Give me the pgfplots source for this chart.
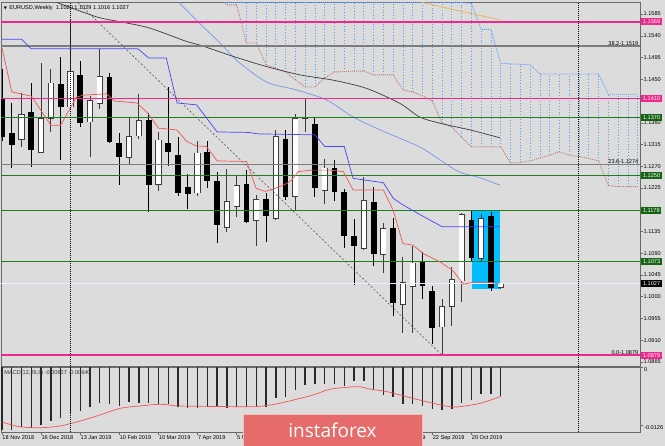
\documentclass[border=0pt]{standalone}
\usepackage{fontspec}
\setmainfont{Liberation Sans}
\newfontfamily\symfont{DejaVu Sans}
\newfontfamily\logofont{Open Sans}
\usepackage{pgfplots}
\usepackage{pgfplotstable}
\pgfplotsset{compat=1.18}

\newcommand{\mtfont}{\fontsize{5.6bp}{6.4bp}\selectfont}

\definecolor{bg}{RGB}{220,220,220}
\definecolor{frame}{RGB}{105,105,105}
\definecolor{lvlpink}{RGB}{240,40,140}
\definecolor{lvlgreen}{RGB}{30,125,30}
\definecolor{boxgreen}{RGB}{20,100,20}
\definecolor{lvlgray}{RGB}{125,125,125}
\definecolor{tenkan}{RGB}{240,85,85}
\definecolor{kijun}{RGB}{70,70,245}
\definecolor{maone}{RGB}{120,150,235}
\definecolor{matwo}{RGB}{60,60,60}
\definecolor{maorange}{RGB}{240,180,90}
\definecolor{cloudblue}{RGB}{80,160,255}
\definecolor{cloudrose}{RGB}{195,125,125}
\definecolor{rectblue}{RGB}{0,190,255}
\definecolor{bannerred}{RGB}{230,108,108}
\definecolor{wickgray}{RGB}{60,60,60}
\definecolor{histgray}{RGB}{40,40,40}
\definecolor{curprice}{RGB}{235,235,250}

% weekly candles, index 0 = week of 18 Nov 2018
\pgfplotstableread{
i o h l c
2 1.1326 1.1422 1.1310 1.1376
4 1.1299 1.1484 1.1297 1.1368
5 1.1370 1.1471 1.1341 1.1442
7 1.1393 1.1573 1.1386 1.1465
9 1.1362 1.1415 1.1289 1.1405
10 1.1401 1.1513 1.1388 1.1455
13 1.1289 1.1372 1.1273 1.1331
14 1.1333 1.1420 1.1326 1.1364
16 1.1233 1.1341 1.1219 1.1324
20 1.1215 1.1322 1.1208 1.1297
23 1.1144 1.1264 1.1134 1.1196
24 1.1188 1.1249 1.1165 1.1229
26 1.1159 1.1211 1.1105 1.1200
28 1.1163 1.1345 1.1159 1.1331
30 1.1208 1.1378 1.1179 1.1368
31 1.1369 1.1411 1.1341 1.1369
33 1.1221 1.1285 1.1192 1.1266
37 1.1101 1.1247 1.1096 1.1198
39 1.1088 1.1153 1.1049 1.1140
41 1.0985 1.1082 1.0925 1.1029
42 1.1022 1.1105 1.0925 1.1069
45 1.0938 1.0995 1.0879 1.0979
46 1.0981 1.1061 1.0940 1.1035
47 1.1033 1.1173 1.0989 1.1169
49 1.1080 1.1171 1.1071 1.1161
51 1.1020 1.1029 1.1016 1.1027
}\bullweeks

\pgfplotstableread{
i o h l c
0 1.1411 1.1471 1.1322 1.1331
1 1.1339 1.1401 1.1266 1.1314
3 1.1382 1.1442 1.1268 1.1304
6 1.1440 1.1496 1.1283 1.1393
8 1.1459 1.1488 1.1351 1.1360
11 1.1455 1.1463 1.1318 1.1320
12 1.1318 1.1339 1.1231 1.1289
15 1.1366 1.1380 1.1175 1.1231
17 1.1318 1.1434 1.1271 1.1299
18 1.1293 1.1331 1.1208 1.1215
19 1.1227 1.1253 1.1182 1.1213
21 1.1299 1.1322 1.1225 1.1240
22 1.1240 1.1259 1.1111 1.1149
25 1.1233 1.1262 1.1153 1.1155
27 1.1202 1.1215 1.1113 1.1167
29 1.1326 1.1345 1.1200 1.1206
32 1.1357 1.1370 1.1206 1.1225
34 1.1266 1.1283 1.1198 1.1217
35 1.1217 1.1223 1.1101 1.1126
36 1.1126 1.1161 1.1024 1.1105
38 1.1196 1.1227 1.1063 1.1088
40 1.1142 1.1163 1.0961 1.0987
43 1.1071 1.1092 1.0995 1.1022
44 1.1012 1.1022 1.0903 1.0936
48 1.1159 1.1177 1.1071 1.1080
50 1.1167 1.1175 1.1012 1.1018
}\bearweeks

% Ichimoku tenkan-sen and kijun-sen
\pgfplotstableread{
i p
0 1.1515
1 1.1424
3 1.1415
5 1.1355
6 1.1355
7.6 1.1413
8.3 1.1417
10.7 1.1420
11.5 1.1405
13.8 1.1401
14.9 1.1380
16 1.1349
17.9 1.1345
18.9 1.1321
19.9 1.1312
20.9 1.1311
22 1.1281
25 1.1280
26 1.1224
26.9 1.1218
27.6 1.1222
28.9 1.1232
29.6 1.1241
30.3 1.1259
31.7 1.1262
33.5 1.1262
34.9 1.1259
35.9 1.1221
39 1.1221
40 1.1179
41 1.1110
42 1.1107
43.1 1.1089
44.8 1.1072
46.1 1.1054
47.2 1.1026
48.2 1.1030
49.9 1.1030
50.9 1.1026
}\tenkan

\pgfplotstableread{
i p
0 1.1533
2 1.1533
3 1.1513
13.9 1.1513
15 1.1494
16.8 1.1494
17.9 1.1401
19.9 1.1397
22 1.1341
25.2 1.1340
26.2 1.1337
32 1.1335
33 1.1311
35 1.1311
35.9 1.1245
39 1.1236
40 1.1204
41 1.1190
43.1 1.1166
45 1.1145
50.9 1.1145
}\kijun

% moving averages (entering from the top edge of the panel)
\pgfplotstableread{
i p
18.1 1.1609
20.2 1.1566
22.3 1.1525
24.3 1.1484
27.1 1.1444
30.1 1.1428
33.2 1.1407
35.9 1.1372
38.7 1.1345
42.7 1.1310
44.8 1.1283
46.8 1.1258
48.9 1.1246
50.9 1.1231
}\mafast

\pgfplotstableread{
i p
5.6 1.1609
9.7 1.1579
12.1 1.1569
15.1 1.1556
18.9 1.1528
20.2 1.1521
23.7 1.1497
27.1 1.1476
30.5 1.1459
33.9 1.1448
37.3 1.1431
40.7 1.1400
42.7 1.1372
44.8 1.1359
47.9 1.1345
50.9 1.1329
}\maslow

% cloud (senkou spans shifted forward), capped at the panel top
\pgfplotstableread{
i lo hi
22.7 1.1609 1.1609
23 1.1604 1.1609
24 1.1604 1.1609
25 1.1525 1.1609
26 1.1525 1.1609
27 1.1480 1.1609
28 1.1473 1.1609
29 1.1465 1.1609
30 1.1449 1.1609
31 1.1434 1.1609
32 1.1434 1.1609
33 1.1453 1.1609
34 1.1465 1.1609
35 1.1466 1.1609
36 1.1467 1.1609
37 1.1467 1.1609
38 1.1459 1.1609
39 1.1459 1.1609
40 1.1459 1.1609
41 1.1428 1.1609
42 1.1424 1.1609
43 1.1416 1.1609
44 1.1405 1.1609
45 1.1360 1.1609
46 1.1351 1.1609
47 1.1330 1.1609
48 1.1310 1.1607
49 1.1310 1.1553
50 1.1310 1.1553
51 1.1310 1.1483
52 1.1277 1.1482
53 1.1278 1.1481
54 1.1281 1.1480
55 1.1287 1.1461
56 1.1293 1.1461
57 1.1300 1.1461
58 1.1293 1.1461
59 1.1290 1.1461
60 1.1286 1.1461
61 1.1281 1.1461
62 1.1230 1.1419
63 1.1228 1.1419
64 1.1228 1.1419
65 1.1228 1.1419
}\cloud

% MACD(12,26,9)
\pgfplotstableread{
i v
0 -0.01369
1 -0.01369
2 -0.01310
3 -0.01332
4 -0.01260
5 -0.01167
6 -0.01101
7 -0.00993
8 -0.00949
9 -0.00876
10 -0.00776
11 -0.00804
12 -0.00847
13 -0.00754
14 -0.00776
15 -0.00789
16 -0.00810
17 -0.00804
18 -0.00876
19 -0.00897
20 -0.00884
21 -0.00862
22 -0.00862
23 -0.00884
24 -0.00876
25 -0.00876
26 -0.00862
27 -0.00862
28 -0.00680
29 -0.00658
30 -0.00500
31 -0.00391
32 -0.00376
33 -0.00369
34 -0.00376
35 -0.00413
36 -0.00298
37 -0.00298
38 -0.00500
39 -0.00608
40 -0.00645
41 -0.00804
42 -0.00804
43 -0.00841
44 -0.00919
45 -0.00934
46 -0.00919
47 -0.00776
48 -0.00717
49 -0.00593
50 -0.00593
51 -0.00627
}\macdmain

\pgfplotstableread{
i v
0 -0.01195
1.8 -0.01297
3.9 -0.01319
5.9 -0.01282
8 -0.01173
10 -0.01043
12.1 -0.00897
14.1 -0.00847
16.2 -0.00810
18.2 -0.00847
22.3 -0.00858
25.7 -0.00862
27.4 -0.00826
29.1 -0.00754
31.8 -0.00608
33.5 -0.00484
35.3 -0.00441
36.6 -0.00428
37.6 -0.00478
39.4 -0.00537
40.7 -0.00608
42 -0.00680
44.1 -0.00789
45.8 -0.00862
46.8 -0.00862
48.9 -0.00789
51 -0.00640
}\macdsignal

\pgfplotsset{
  vbar/.style n args={2}{draw=none, mark=none, forget plot,
    error bars/.cd, y dir=plus, y explicit, error mark=none,
    error bar style={line width=#1, draw=#2, solid}},
}
\tikzset{
  pricebox/.style={fill=#1, text=white, font=\mtfont, inner xsep=1.6bp,
    inner ysep=0pt, minimum height=7bp, anchor=west, xshift=1.2bp},
}

\begin{document}
\begin{tikzpicture}
\useasboundingbox (0bp,0bp) rectangle (665bp,446bp);
\fill[bg] (0bp,0bp) rectangle (665bp,446bp);

% ---------------- price panel ----------------
\begin{axis}[
  at={(1bp,80bp)}, anchor=south west,
  scale only axis, width=639bp, height=364bp,
  xmin=-0.1, xmax=65.24, ymin=1.08567, ymax=1.16099,
  axis background/.style={fill=bg},
  axis line style={draw=frame, line width=0.8bp},
  xtick=\empty,
  ytick={1.1585,1.1540,1.1495,1.1450,1.1360,1.1315,1.1270,1.1225,1.1135,1.1090,1.1045,1.1000,1.0955,1.0910,1.0865},
  yticklabels={1.1585,1.1540,1.1495,1.1450,1.1360,1.1315,1.1270,1.1225,1.1135,1.1090,1.1045,1.1000,1.0955,1.0910,1.0865},
  ytick pos=right, yticklabel pos=right,
  tick align=outside, major tick length=2.5bp,
  tick style={draw=frame, line width=0.5bp},
  yticklabel style={font=\mtfont, anchor=west, inner sep=0pt, xshift=1bp},
  scaled y ticks=false,
  clip mode=individual,
]
% highlighted range of the last weeks
\addplot[fill=rectblue, draw=none, forget plot] coordinates {(48.03,1.1016) (50.92,1.1016) (50.92,1.1179) (48.03,1.1179)} -- cycle;

% candles: wicks, then bodies
\addplot[vbar={0.9bp}{wickgray}] table[x=i, y=l, y error expr=\thisrow{h}-\thisrow{l}] {\bullweeks};
\addplot[vbar={0.9bp}{black}] table[x=i, y=l, y error expr=\thisrow{h}-\thisrow{l}] {\bearweeks};
\addplot[vbar={5.8bp}{black}] table[x=i, y=c, y error expr=\thisrow{o}-\thisrow{c}] {\bearweeks};
\addplot[vbar={6.2bp}{wickgray}] table[x=i, y expr=\thisrow{o}-0.00013, y error expr=\thisrow{c}-\thisrow{o}+0.00026] {\bullweeks};
\addplot[vbar={4.6bp}{white}] table[x=i, y=o, y error expr=\thisrow{c}-\thisrow{o}] {\bullweeks};

% cloud hatching and borders
\addplot[draw=none, mark=none, forget plot,
  error bars/.cd, y dir=plus, y explicit, error mark=none,
  error bar style={draw=cloudblue, line width=0.7bp, dash pattern=on 1bp off 1.8bp}]
  table[x=i, y=lo, y error expr=\thisrow{hi}-\thisrow{lo}] {\cloud};
\addplot[cloudrose, line width=0.9bp, dash pattern=on 1bp off 1bp] table[x=i, y=lo] {\cloud};
\addplot[cloudblue, line width=0.8bp, dash pattern=on 1bp off 1bp] table[x=i, y=hi] {\cloud};

% moving averages
\addplot[maone, line width=0.7bp, smooth] table[x=i, y=p] {\mafast};
\addplot[matwo, line width=0.7bp, smooth] table[x=i, y=p] {\maslow};
\addplot[maorange, line width=0.8bp] coordinates {(42.9,1.1609) (50.9,1.1573)};

% horizontal levels
\addplot[lvlpink, line width=1.5bp] coordinates {(-0.1,1.1569) (65.24,1.1569)};
\addplot[lvlpink, line width=1.5bp] coordinates {(-0.1,1.1410) (65.24,1.1410)};
\addplot[lvlpink, line width=1.5bp] coordinates {(-0.1,1.0879) (65.24,1.0879)};
\addplot[lvlgray, line width=1.3bp] coordinates {(-0.1,1.1519) (65.24,1.1519)};
\addplot[lvlgray, line width=1.3bp] coordinates {(-0.1,1.1274) (65.24,1.1274)};
\addplot[lvlgreen, line width=1.1bp] coordinates {(-0.1,1.1370) (65.24,1.1370)};
\addplot[lvlgreen, line width=1.1bp] coordinates {(-0.1,1.1250) (65.24,1.1250)};
\addplot[lvlgreen, line width=1.1bp] coordinates {(-0.1,1.1179) (65.24,1.1179)};
\addplot[lvlgreen, line width=1.1bp] coordinates {(-0.1,1.1073) (65.24,1.1073)};
\addplot[curprice, line width=0.6bp] coordinates {(-0.1,1.1027) (65.24,1.1027)};

% Fibonacci base line
\addplot[black!65, line width=0.6bp, dash pattern=on 2bp off 2bp] coordinates {(7.75,1.1609) (45,1.0879)};

% tenkan / kijun
\addplot[tenkan, line width=0.7bp] table[x=i, y=p] {\tenkan};
\addplot[kijun, line width=0.7bp] table[x=i, y=p] {\kijun};

% vertical markers
\addplot[black, line width=0.6bp, dash pattern=on 1bp off 1bp] coordinates {(7,1.08567) (7,1.16099)};
\addplot[black, line width=0.6bp, dash pattern=on 1bp off 1bp] coordinates {(58.9,1.08567) (58.9,1.16099)};

% texts
\node[anchor=west, font=\mtfont, inner sep=0pt] at (rel axis cs:0.004,0.9835)
  {{\symfont\fontsize{4bp}{4bp}\selectfont ▼}\hspace{2.5bp}EURUSD,Weekly\hspace{3bp}1.1020 1.1029 1.1016 1.1027};
\node[anchor=south east, font=\mtfont, inner sep=0.6bp] at (axis cs:65.15,1.1519) {38.2-1.1519};
\node[anchor=south east, font=\mtfont, inner sep=0.6bp] at (axis cs:65.15,1.1274) {23.6-1.1274};
\node[anchor=south east, font=\mtfont, inner sep=0.6bp] at (axis cs:65.15,1.0879) {0.0-1.0879};

% price tags on the scale
\node[pricebox=lvlpink] at (axis cs:65.24,1.1569) {1.1569};
\node[pricebox=lvlpink] at (axis cs:65.24,1.1410) {1.1410};
\node[pricebox=boxgreen] at (axis cs:65.24,1.1370) {1.1370};
\node[pricebox=boxgreen] at (axis cs:65.24,1.1250) {1.1250};
\node[pricebox=boxgreen] at (axis cs:65.24,1.1179) {1.1179};
\node[pricebox=boxgreen] at (axis cs:65.24,1.1073) {1.1073};
\node[pricebox=black] at (axis cs:65.24,1.1027) {1.1027};
\node[pricebox=lvlpink] at (axis cs:65.24,1.0879) {1.0879};
\end{axis}

% ---------------- MACD panel ----------------
\begin{axis}[
  at={(1bp,14bp)}, anchor=south west,
  scale only axis, width=639bp, height=65bp,
  xmin=-0.1, xmax=65.24, ymin=-0.01412, ymax=0,
  axis background/.style={fill=bg},
  axis line style={draw=frame, line width=0.8bp},
  xtick={0,4,...,48},
  xticklabels={18 Nov 2018,16 Dec 2018,13 Jan 2019,10 Feb 2019,10 Mar 2019,7 Apr 2019,5 May 2019,,,,25 Aug 2019,22 Sep 2019,20 Oct 2019},
  xtick pos=bottom,
  ytick={-0.0126,0}, yticklabels={-0.0126,0},
  ytick pos=right, yticklabel pos=right,
  tick align=outside, major tick length=3bp,
  tick style={draw=frame, line width=0.5bp},
  xticklabel style={font=\mtfont, anchor=north west, inner sep=0pt, xshift=0.3bp, yshift=-0.5bp},
  yticklabel style={font=\mtfont, anchor=north west, inner sep=0pt, xshift=1bp},
  scaled y ticks=false,
  clip mode=individual,
]
\addplot[vbar={1.4bp}{histgray}] table[x=i, y=v, y error expr=-\thisrow{v}] {\macdmain};
\addplot[tenkan, line width=0.7bp, smooth] table[x=i, y=v] {\macdsignal};
\addplot[black, line width=0.6bp, dash pattern=on 1bp off 1bp] coordinates {(7,-0.01412) (7,0)};
\addplot[black, line width=0.6bp, dash pattern=on 1bp off 1bp] coordinates {(58.9,-0.01412) (58.9,0)};
\node[anchor=west, font=\mtfont, inner sep=0pt, text=black!80] at (rel axis cs:0.005,0.9) {MACD(12,26,9) -0.00627 -0.00640};
\end{axis}

% watermark banner
\filldraw[fill=bannerred, draw=white!55!bannerred, line width=0.8bp] (243bp,-1bp) rectangle (422bp,32bp);
\node[text=white, font=\logofont\fontsize{19bp}{21bp}\selectfont, inner sep=0pt] at (332.5bp,16bp) {instaforex};
\end{tikzpicture}
\end{document}
